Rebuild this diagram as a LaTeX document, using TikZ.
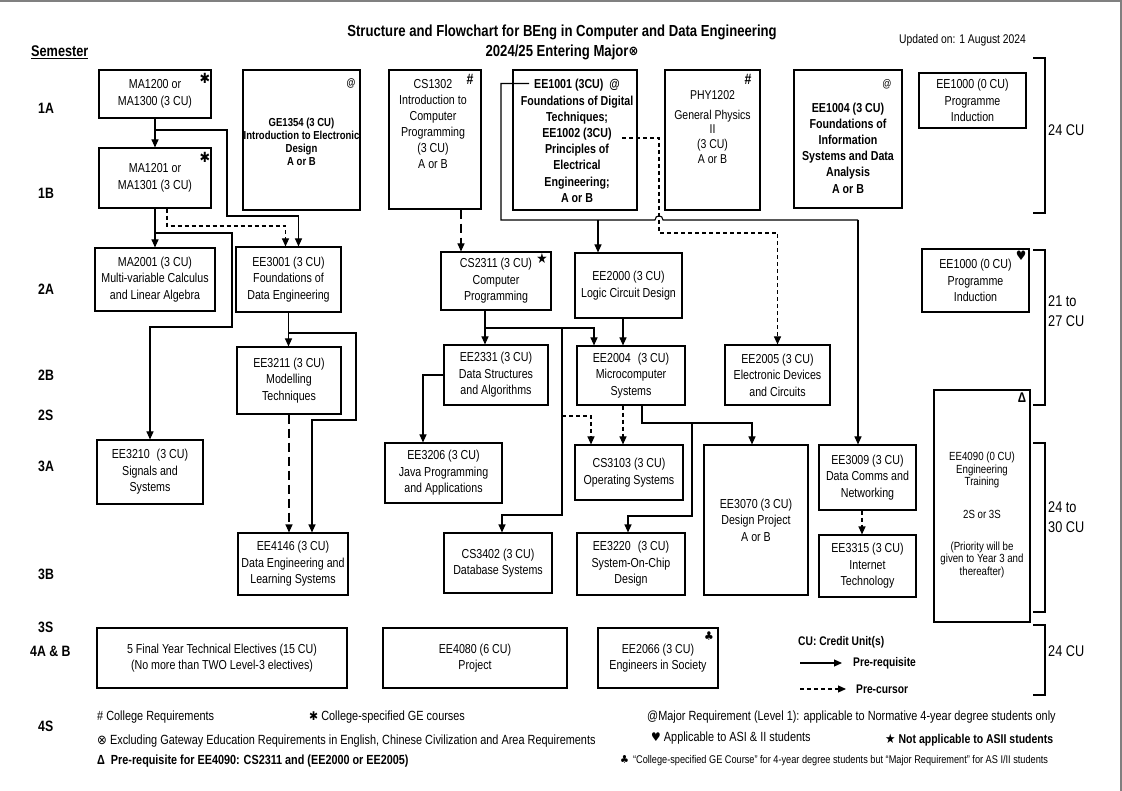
\documentclass[tikz,border=0pt]{standalone}
\usepackage{fontspec}
\setmainfont{Liberation Sans}[FakeStretch=0.82]
\newfontfamily\symfont{DejaVu Sans}[FakeStretch=0.9]
\usetikzlibrary{arrows.meta,calc}
\tikzset{
  box/.style={draw, line width=1.1pt, align=center, inner sep=0pt, font=\fontsize{13}{16.5}\selectfont},
  tbox/.style={box, line width=2pt},
  txt/.style={align=center, inner sep=0pt, font=\fontsize{13}{16}\selectfont},
  btxt/.style={align=center, inner sep=0pt, font=\fontsize{13}{16.2}\selectfont\bfseries},
  conn/.style={draw, line width=1.1pt},
  pre/.style={conn, -{Triangle[length=8pt,width=7pt]}},
  pc/.style={pre, dash pattern=on 4pt off 3pt},
  pcl/.style={pre, dash pattern=on 9pt off 5pt},
  sem/.style={anchor=west, inner sep=0pt, font=\fontsize{15}{17}\selectfont\bfseries},
  brk/.style={draw, line width=2pt},
  cu/.style={anchor=west, inner sep=0pt, align=left, font=\fontsize{15.5}{20}\selectfont},
  note/.style={anchor=west, inner sep=0pt, font=\fontsize{13.3}{15}\selectfont},
  sy/.style={inner sep=0pt, font=\symfont\fontsize{12}{12}\selectfont},
}
\begin{document}
\begin{tikzpicture}[x=1pt,y=-1pt]
\useasboundingbox (0,0) rectangle (1122,791);
\draw[gray, line width=1.5pt] (0,1) -- (1121,1) -- (1121,791);

% title
\node[inner sep=0pt, font=\fontsize{16}{18}\selectfont\bfseries] (title1) at (562,32) {Structure and Flowchart for BEng in Computer and Data Engineering};
\node[inner sep=0pt, font=\fontsize{16}{18}\selectfont\bfseries] (title2) at (562,52) {2024/25 Entering Major{\symfont\fontsize{13}{13}\selectfont\raisebox{1pt}{⊗}}};
\node[anchor=west, inner sep=0pt, font=\fontsize{12.6}{14}\selectfont] (upd) at (899,40) {Updated on: 1 August 2024};

% semester labels
\node[sem, font=\fontsize{15.5}{17}\selectfont\bfseries] (semh) at (31,52) {\underline{Semester}};
\node[sem] (s1a) at (38,108) {1A};
\node[sem] (s1b) at (38,193) {1B};
\node[sem] (s2a) at (38,289) {2A};
\node[sem] (s2b) at (38,375) {2B};
\node[sem] (s2s) at (38,415) {2S};
\node[sem] (s3a) at (38,466) {3A};
\node[sem] (s3b) at (38,574) {3B};
\node[sem] (s3s) at (38,627) {3S};
\node[sem] (s4ab) at (30,651) {4A \& B};
\node[sem] (s4s) at (38,726) {4S};

% row 1
\node[box, minimum width=112, minimum height=48] (ma1200) at (155,94) {MA1200 or\\MA1300 (3 CU)};
\node[sy, font=\symfont\fontsize{14}{14}\selectfont] (st1) at (205,78) {✱};
\node[tbox, minimum width=117, minimum height=140] (ge1354) at (301.5,140) {};
\node[btxt, font=\fontsize{11.6}{13}\selectfont\bfseries] (ge1354t) at (301.5,142) {GE1354 (3 CU)\\Introduction to Electronic\\Design\\A or B};
\node[inner sep=0pt, font=\fontsize{11}{11}\selectfont\bfseries] (ge1354m) at (351,83) {@};
\node[box, minimum width=92, minimum height=139] (cs1302) at (435,139.5) {};
\node[txt] (cs1302t) at (433,124) {CS1302\\Introduction to\\Computer\\Programming\\(3 CU)\\A or B};
\node[inner sep=0pt, font=\fontsize{15}{15}\selectfont\bfseries] (cs1302m) at (470,79) {\#};
\node[tbox, minimum width=124, minimum height=140] (ee1001) at (575,140) {};
\node[btxt] (ee1001t) at (577,141) {EE1001 (3CU)\hspace{6pt}@\\Foundations of Digital\\Techniques;\\EE1002 (3CU)\\Principles of\\Electrical\\Engineering;\\A or B};
\node[box, minimum width=95, minimum height=140] (phy1202) at (712.5,140) {};
\node[txt, font=\fontsize{12.8}{14.7}\selectfont] (phy1202t) at (712.5,127) {PHY1202\\[5pt]General Physics\\II\\(3 CU)\\A or B};
\node[inner sep=0pt, font=\fontsize{15}{15}\selectfont\bfseries] (phy1202m) at (748,79) {\#};
\node[tbox, minimum width=108, minimum height=138] (ee1004) at (848,139) {};
\node[btxt] (ee1004t) at (848,148) {EE1004 (3 CU)\\Foundations of\\Information\\Systems and Data\\Analysis\\A or B};
\node[inner sep=0pt, font=\fontsize{11}{11}\selectfont] (ee1004m) at (887,84) {@};
\node[box, minimum width=107, minimum height=55] (ee1000a) at (972.5,100.5) {EE1000 (0 CU)\\Programme\\Induction};

% row 1B
\node[box, minimum width=112, minimum height=60] (ma1201) at (155,178) {MA1201 or\\MA1301 (3 CU)};
\node[sy, font=\symfont\fontsize{14}{14}\selectfont] (st2) at (205,157) {✱};

% row 2A
\node[box, minimum width=120, minimum height=63] (ma2001) at (155,279.5) {MA2001 (3 CU)\\Multi-variable Calculus\\and Linear Algebra};
\node[box, minimum width=105, minimum height=65] (ee3001) at (288.5,279.5) {EE3001 (3 CU)\\Foundations of\\Data Engineering};
\node[box, minimum width=110, minimum height=58] (cs2311) at (496,281) {CS2311 (3 CU)\\Computer\\Programming};
\node[sy, font=\symfont\fontsize{14}{14}\selectfont] (cs2311m) at (542,258) {★};
\node[box, minimum width=107, minimum height=65] (ee2000) at (628.5,285.5) {EE2000 (3 CU)\\Logic Circuit Design};
\node[box, minimum width=107, minimum height=63] (ee1000b) at (975.5,280.5) {EE1000 (0 CU)\hspace{8pt}\\Programme\\Induction};
\node[sy, font=\symfont\fontsize{13}{13}\selectfont] (ee1000bm) at (1021,256) {♥};

% row 2B
\node[box, minimum width=104, minimum height=67] (ee3211) at (289,380.5) {EE3211 (3 CU)\\Modelling\\Techniques};
\node[box, minimum width=104, minimum height=60] (ee2331) at (496,375) {EE2331 (3 CU)\\Data Structures\\and Algorithms};
\node[box, minimum width=108, minimum height=59] (ee2004) at (631,375.5) {EE2004\hspace{4pt} (3 CU)\\Microcomputer\\Systems};
\node[box, minimum width=105, minimum height=60] (ee2005) at (777.5,375) {EE2005 (3 CU)\\Electronic Devices\\and Circuits};

% row 3A
\node[box, minimum width=106, minimum height=64] (ee3210) at (150,472) {EE3210\hspace{4pt} (3 CU)\\Signals and\\Systems};
\node[box, minimum width=117, minimum height=60] (ee3206) at (443.5,473) {EE3206 (3 CU)\\Java Programming\\and Applications};
\node[box, minimum width=108, minimum height=55] (cs3103) at (629,472.5) {CS3103 (3 CU)\\Operating Systems};
\node[box, minimum width=104, minimum height=150] (ee3070) at (756,520) {EE3070 (3 CU)\\Design Project\\A or B};
\node[box, minimum width=97, minimum height=65] (ee3009) at (867.5,477.5) {EE3009 (3 CU)\\Data Comms and\\Networking};
\node[box, minimum width=96, minimum height=232] (ee4090) at (982,506) {};
\node[align=center, inner sep=0pt, font=\fontsize{11.8}{12.7}\selectfont] (ee4090t) at (982,515) {EE4090 (0 CU)\\Engineering\\Training\\[20pt]2S or 3S\\[19pt](Priority will be\\given to Year 3 and\\thereafter)};
\node[inner sep=0pt, font=\fontsize{14}{14}\selectfont\bfseries] (ee4090m) at (1022,398) {Δ};

% row 3B
\node[box, minimum width=110, minimum height=62] (ee4146) at (293,564) {EE4146 (3 CU)\\Data Engineering and\\Learning Systems};
\node[box, minimum width=108, minimum height=60] (cs3402) at (498,563) {CS3402 (3 CU)\\Database Systems};
\node[box, minimum width=108, minimum height=62] (ee3220) at (631,564) {EE3220\hspace{4pt} (3 CU)\\System-On-Chip\\Design};
\node[box, minimum width=97, minimum height=62] (ee3315) at (867.5,566) {EE3315 (3 CU)\\Internet\\Technology};

% row 4
\node[box, minimum width=250, minimum height=60] (elec) at (222,658) {5 Final Year Technical Electives (15 CU)\\(No more than TWO Level-3 electives)};
\node[box, minimum width=184, minimum height=60] (ee4080) at (475,658) {EE4080 (6 CU)\\Project};
\node[box, minimum width=120, minimum height=60] (ee2066) at (658,658) {EE2066 (3 CU)\\Engineers in Society};
\node[sy, font=\symfont\fontsize{12}{12}\selectfont] (ee2066m) at (709,636) {♣};

% ---- connectors ----
\draw[pre] (ma1200.south) -- (ma1201.north);
\coordinate (b1) at (155,130);
\coordinate (b2) at (227,216);
\draw[pre] (b1) -| (b2) -| ($(ee3001.north)+(10,0)$);
\draw[pre] (ma1201.south) -- (ma2001.north);
\coordinate (d1) at (167,226);
\draw[pc] (ma1201.south -| d1) -- (d1) -| ($(ee3001.north)+(-3,0)$);
\coordinate (e1) at (155,233);
\coordinate (e2) at (232,327);
\draw[pre] (e1) -| (e2) -| (ee3210.north);

\draw[pre] (ee3001.south) -- (ee3001.south |- ee3211.north);
\coordinate (g1) at (356,333);
\coordinate (g2) at (312,420);
\draw[pre] (ee3001.south |- g1) -- (g1) |- (g2) -- (g2 |- ee4146.north);
\draw[pcl] (ee3211.south) -- (ee3211.south |- ee4146.north);

\coordinate (i1) at (461,230);
\draw[pcl] (cs1302.south -| i1) -- (i1 |- cs2311.north);

\coordinate (j0) at (529,83.5);
\coordinate (j1) at (501,220);
\coordinate (jh) at (659,220);
\coordinate (j2) at (858,220);
\coordinate (j3) at (598,220);
\draw[conn] (j0) -| (j1) -- ($(jh)+(-4,0)$) .. controls ($(jh)+(-4,-5.5)$) and ($(jh)+(4,-5.5)$) .. ($(jh)+(4,0)$) -- (j2);
\draw[pre] (j3) -- (j3 |- ee2000.north);
\draw[pre] (j2) -- (j2 |- ee3009.north);

\coordinate (k0) at (622,138);
\coordinate (k1) at (659,233);
\draw[pc] (k0) -| (k1) -| (ee2005.north);

\coordinate (l1) at (485,328);
\draw[pre] (cs2311.south -| l1) -- (l1 |- ee2331.north);
\draw[pre] (l1) -| ($(ee2004.north)+(-37,0)$);
\coordinate (n1) at (562,328);
\coordinate (n2) at (502,515);
\draw[pre] (n1) |- (n2) -- (n2 |- cs3402.north);
\coordinate (o1) at (562,416);
\draw[pc] (o1) -| ($(cs3103.north)+(-38,0)$);

\coordinate (p1) at (623,330);
\draw[pre] (ee2000.south -| p1) -- (p1 |- ee2004.north);
\draw[pc] (ee2004.south -| p1) -- (p1 |- cs3103.north);
\coordinate (r1) at (642,423);
\draw[pre] (ee2004.south -| r1) -- (r1) -| ($(ee3070.north)+(-4,0)$);
\coordinate (s1) at (692,423);
\coordinate (s2) at (628,516);
\draw[pre] (s1) |- (s2) -- (s2 |- ee3220.north);
\coordinate (t1) at (423,375);
\draw[pre] (ee2331.west) -| (t1 |- ee3206.north);
\coordinate (u1) at (862,520);
\draw[pc] (ee3009.south -| u1) -- (u1 |- ee3315.north);

% brackets
\draw[brk] (1033,58) -- (1045,58) -- (1045,213) -- (1033,213);
\node[cu] (cu1) at (1048,130) {24 CU};
\draw[brk] (1033,250) -- (1045,250) -- (1045,405) -- (1033,405);
\node[cu] (cu2) at (1048,311) {21 to\\27 CU};
\draw[brk] (1033,443) -- (1045,443) -- (1045,612) -- (1033,612);
\node[cu] (cu3) at (1048,517) {24 to\\30 CU};
\draw[brk] (1033,625) -- (1045,625) -- (1045,695) -- (1033,695);
\node[cu] (cu4) at (1048,651) {24 CU};

% legend
\node[anchor=west, inner sep=0pt, font=\fontsize{12.5}{15}\selectfont\bfseries] (lgcu) at (798,642) {CU: Credit Unit(s)};
\coordinate (lg1) at (800,663);
\coordinate (lg2) at (842,663);
\draw[pre] (lg1) -- (lg2);
\node[anchor=west, inner sep=0pt, font=\fontsize{12.5}{15}\selectfont\bfseries] (lgpr) at (853,663) {Pre-requisite};
\coordinate (lg3) at (800,689);
\coordinate (lg4) at (846,689);
\draw[pc] (lg3) -- (lg4);
\node[anchor=west, inner sep=0pt, font=\fontsize{12.5}{15}\selectfont\bfseries] (lgpc) at (856,689) {Pre-cursor};

% footnotes
\node[note] (fn1) at (97,717) {\# College Requirements};
\node[note] (fn2) at (309,717) {{\symfont\fontsize{12}{12}\selectfont ✱} College-specified GE courses};
\node[note] (fn3) at (647,717) {@Major Requirement (Level 1): applicable to Normative 4-year degree students only};
\node[note] (fn4) at (97,741) {{\symfont\fontsize{13}{13}\selectfont ⊗} Excluding Gateway Education Requirements in English, Chinese Civilization and Area Requirements};
\node[note] (fn5) at (651,738) {{\symfont\fontsize{12}{12}\selectfont ♥} Applicable to ASI \& II students};
\node[note, font=\fontsize{12.8}{15}\selectfont\bfseries] (fn6) at (885,740) {{\symfont\fontsize{13}{13}\selectfont ★} Not applicable to ASII students};
\node[note, font=\fontsize{13.2}{15}\selectfont\bfseries] (fn7) at (97,761) {Δ\hspace{6pt}Pre-requisite for EE4090: CS2311 and (EE2000 or EE2005)};
\node[note, font=\fontsize{11.2}{14}\selectfont] (fn8) at (620,761) {{\symfont\fontsize{11}{11}\selectfont ♣}\hspace{4pt}“College-specified GE Course” for 4-year degree students but “Major Requirement” for AS I/II students};
\end{tikzpicture}
\end{document}
